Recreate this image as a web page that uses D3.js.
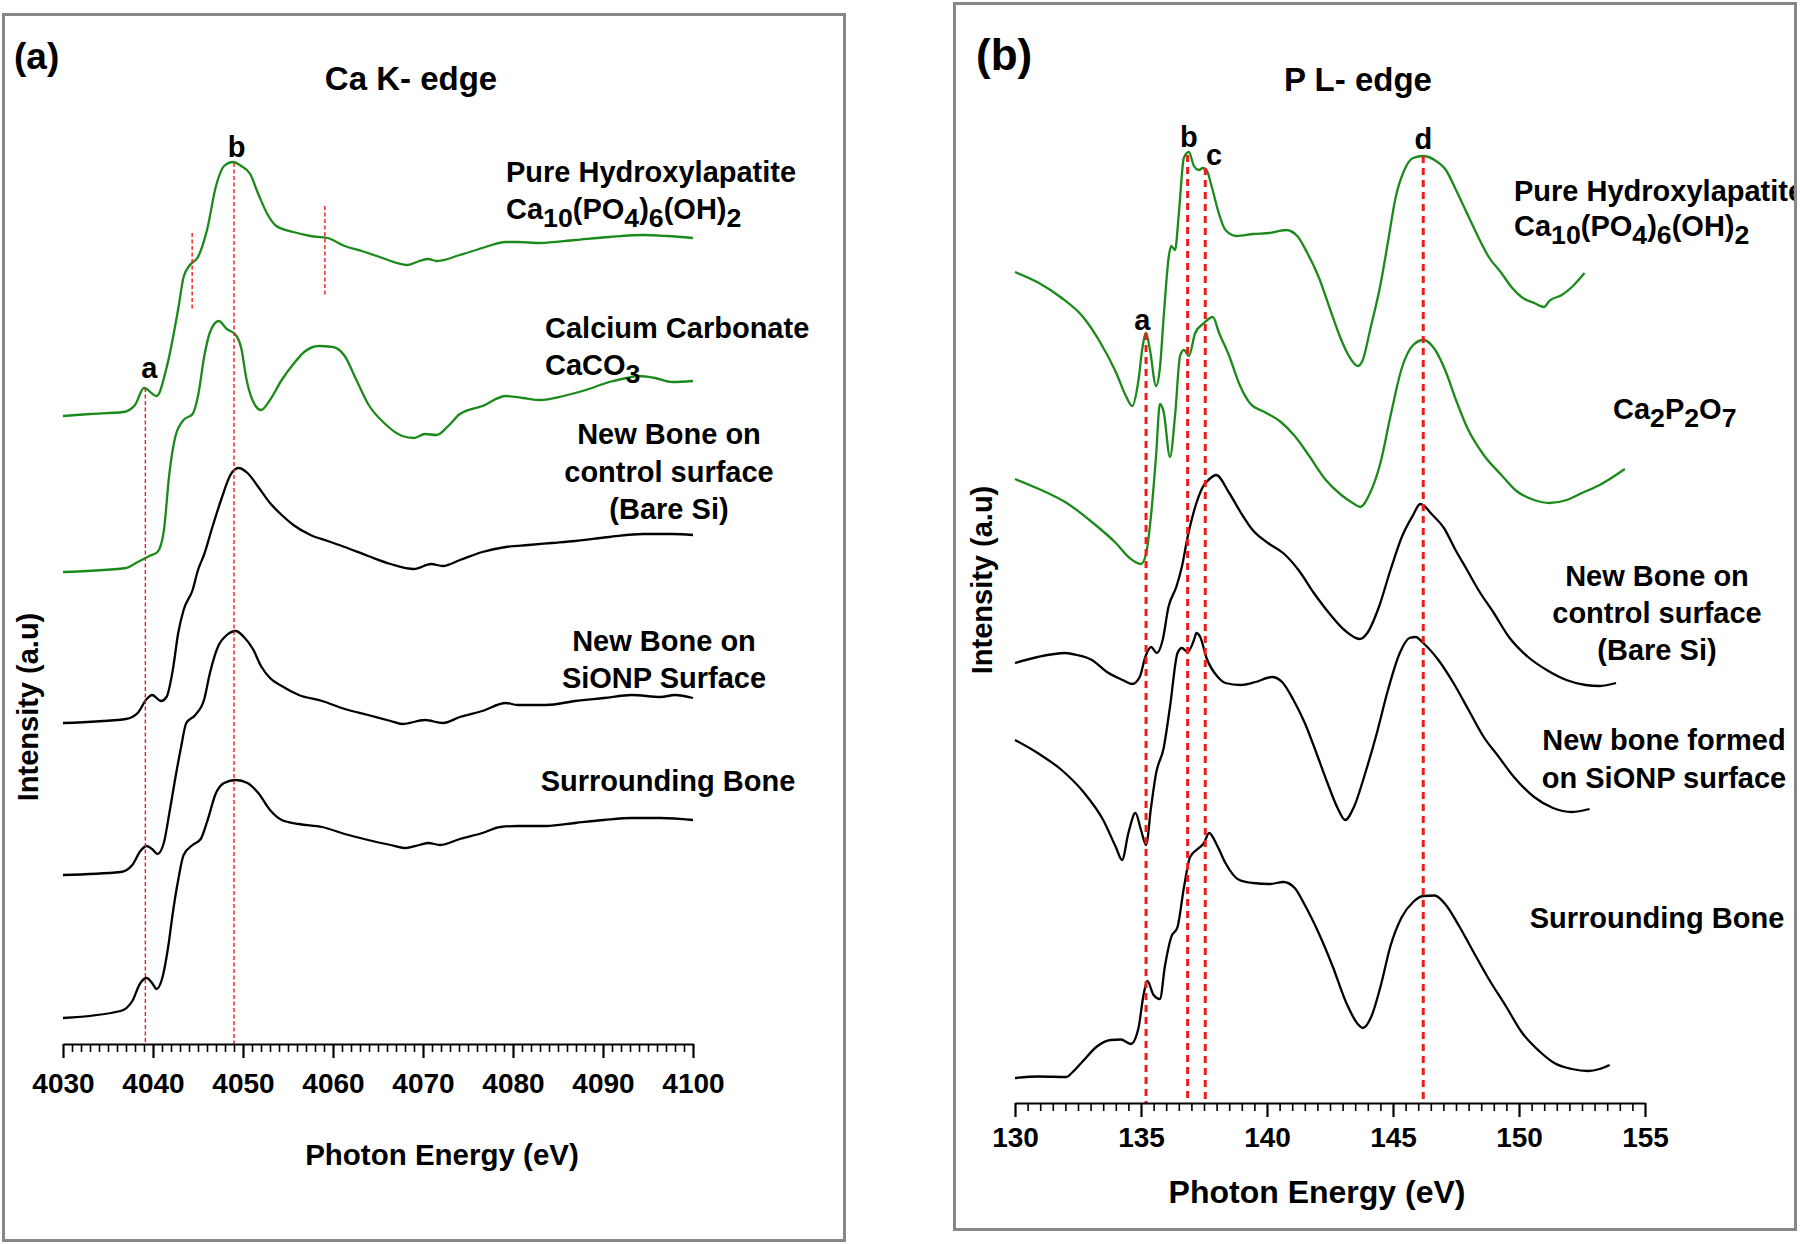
<!DOCTYPE html>
<html><head><meta charset="utf-8">
<script src="https://cdn.jsdelivr.net/npm/d3@7"></script>
<style>
html,body{margin:0;padding:0;background:#fff;}
svg{display:block;}
text{font-family:"Liberation Sans",Arial,Helvetica,sans-serif;font-weight:bold;fill:#000;}
</style>
</head><body>
<svg id="chart" width="1800" height="1244"></svg>
<script>
// ---------------- DATA ----------------
// Panel (a) Ca K-edge : [photon energy eV, intensity a.u.]
const caHAp = [[4030,629],[4033,631],[4036.7,633],[4038,640],[4039.0,657],[4040.4,649],[4041.5,677],[4042.8,736],[4043.4,768],[4044.1,780],[4045.0,788],[4046.0,815],[4047.0,859],[4047.9,879],[4048.9,883],[4049.8,879],[4050.8,871],[4051.7,851],[4052.7,831],[4053.7,819],[4055.6,813],[4057.5,809],[4059.4,807],[4061.3,799],[4063.2,794],[4065.2,788],[4067.1,782],[4068.3,780],[4069.6,784],[4070.6,786],[4071.5,784],[4074.1,790],[4076.6,797],[4079.2,803],[4080.5,803],[4083,802],[4086.9,805],[4090.7,808],[4094.5,810],[4097.1,809],[4100,807]];
const caCaCO3 = [[4030,473],[4037,477],[4038.3,483],[4039.6,489],[4040.5,493],[4041.2,514],[4041.8,570],[4042.5,609],[4043.4,625],[4044.4,631],[4045,649],[4045.7,689],[4046.3,712],[4047.3,724],[4048.2,716],[4049.2,710],[4049.8,697],[4050.4,665],[4051.4,639],[4052,635],[4053,645],[4054.3,665],[4055.6,681],[4056.8,693],[4058.4,699],[4060,698],[4061.3,689],[4062.6,665],[4063.9,641],[4065.8,621],[4067.7,609],[4069,607],[4070.2,611],[4071.5,610],[4072.8,619],[4074.1,631],[4076.6,639],[4079.2,649],[4081.1,647],[4083,645],[4085.6,649],[4088.1,655],[4090.7,663],[4092.6,667],[4093.9,669],[4095.8,667],[4097.7,663],[4100,664]];
const caControl = [[4030,322],[4037,326],[4038.3,332],[4039.3,346],[4039.9,350],[4040.9,344],[4041.5,348],[4042.2,375],[4042.8,412],[4043.4,435],[4044.4,455],[4045,475],[4045.7,491],[4046.6,518],[4047.6,546],[4048.6,570],[4049.5,577],[4050.5,572],[4051.7,558],[4053,542],[4054.3,530],[4055.6,520],[4057.5,510],[4059.4,504],[4061.3,498],[4063.9,489],[4066.4,481],[4069,476],[4070.9,481],[4072.2,479],[4074.1,485],[4076.6,493],[4079.2,498],[4081.7,500],[4084.3,502],[4086.9,504],[4090.7,508],[4094.5,511],[4097.7,511],[4100,510]];
const caSiONP = [[4030,170],[4036.4,173],[4037.7,180],[4038.6,194],[4039.3,199],[4039.9,196],[4040.5,191],[4041.2,202],[4041.8,231],[4042.5,268],[4043.1,297],[4043.7,322],[4044.7,330],[4045.7,346],[4046.3,371],[4047.3,400],[4048.2,410],[4049.2,414],[4050.1,408],[4051.1,396],[4052,379],[4053,367],[4054.3,359],[4056.2,350],[4058.8,344],[4061.3,336],[4063.9,330],[4066.4,324],[4067.7,321],[4070.2,325],[4072.2,322],[4074.1,328],[4076.6,334],[4079.2,342],[4080.5,340],[4083.7,340],[4086.9,344],[4090.1,347],[4093.2,350],[4096.4,348],[4098,350],[4100,347]];
const caSurrounding = [[4030,27],[4036.4,34],[4037.7,44],[4038.6,62],[4039.3,67],[4039.9,62],[4040.4,56],[4041,66],[4041.7,99],[4042.2,132],[4042.8,165],[4043.4,190],[4044.4,200],[4045.3,206],[4046,223],[4047,252],[4047.9,262],[4049.2,265],[4050.5,262],[4051.7,252],[4053,235],[4054.3,225],[4056.2,221],[4058.8,218],[4061.3,211],[4063.9,205],[4066.4,200],[4068,197],[4069.6,200],[4070.6,202],[4071.9,200],[4074.1,206],[4076.6,212],[4078.6,218],[4080.5,219],[4083.7,219],[4086.9,222],[4090.1,225],[4093.2,227],[4096.4,227],[4100,225]];

// Panel (b) P L-edge : [photon energy eV, intensity a.u.]
const pHAp = [[130,831],[130.95,820],[131.8,806],[132.7,786],[133.35,762],[134.0,731],[134.4,707],[134.65,697],[134.9,723],[135.05,754],[135.2,770],[135.35,754],[135.6,717],[135.75,735],[135.9,786],[136.1,846],[136.2,857],[136.35,853],[136.5,889],[136.7,945],[136.9,951],[137.1,937],[137.3,933],[137.45,935],[137.6,933],[137.8,917],[138.05,893],[138.35,873],[138.8,867],[139.45,869],[140.1,870],[140.75,873],[141.2,867],[141.6,850],[142.05,826],[142.5,794],[142.9,766],[143.25,747],[143.6,737],[143.8,743],[144.1,774],[144.5,818],[144.8,861],[145.1,905],[145.45,933],[145.8,945],[146.2,947],[146.65,943],[147.1,933],[147.5,913],[147.95,889],[148.4,865],[148.8,846],[149.3,830],[149.7,816],[150.1,806],[150.6,800],[151.0,796],[151.2,802],[151.7,808],[152.1,816],[152.6,830]];
const pCa2P2O7 = [[130,624],[130.95,614],[132.05,600],[133.1,580],[134.0,560],[134.55,545],[135.0,539],[135.2,549],[135.4,588],[135.6,648],[135.75,699],[135.9,691],[136.15,646],[136.35,687],[136.55,747],[136.7,753],[136.9,747],[137.15,770],[137.5,780],[137.85,786],[138.1,770],[138.5,747],[138.9,719],[139.35,699],[139.9,691],[140.55,681],[141.1,667],[141.65,648],[142.3,624],[142.95,608],[143.4,600],[143.7,596],[144.05,608],[144.5,640],[144.9,687],[145.35,735],[145.8,758],[146.2,763],[146.65,754],[147.1,731],[147.5,703],[147.95,675],[148.6,648],[149.3,628],[149.9,612],[150.6,603],[151.2,600],[151.9,603],[152.5,610],[153.2,618],[154.2,634]];
const pControl = [[130,440],[130.9,446],[132.0,450],[132.45,448],[133.05,443],[133.65,431],[134.27,423],[134.65,419],[134.95,426],[135.17,446],[135.4,456],[135.63,450],[135.86,463],[136.09,496],[136.4,516],[136.62,536],[136.85,566],[137.15,596],[137.45,616],[137.76,625],[137.98,628],[138.5,610],[138.97,590],[139.43,573],[140.04,560],[140.64,550],[141.25,533],[141.86,510],[142.46,490],[143.07,473],[143.68,464],[143.98,470],[144.44,496],[144.9,533],[145.35,566],[145.8,588],[146.08,599],[146.57,588],[147.02,575],[147.48,553],[147.94,533],[148.39,513],[149.0,490],[149.6,466],[150.36,446],[151.1,433],[151.88,423],[152.64,418],[153.2,417],[153.85,420]];
const pSiONP = [[130,363],[130.9,350],[131.85,333],[132.75,310],[133.5,283],[134.0,256],[134.25,243],[134.5,270],[134.78,290],[135.0,273],[135.2,258],[135.4,296],[135.6,330],[135.9,355],[136.15,396],[136.45,450],[136.62,455],[136.85,451],[137.1,463],[137.2,470],[137.35,466],[137.6,445],[138.05,426],[138.35,420],[138.95,418],[139.55,421],[140.2,426],[140.6,421],[141.05,403],[141.5,380],[141.96,350],[142.4,320],[142.8,295],[143.1,283],[143.45,296],[143.9,330],[144.36,370],[144.8,413],[145.27,450],[145.65,465],[145.9,466],[146.2,460],[146.8,443],[147.4,420],[148.0,393],[148.6,366],[149.2,346],[149.8,326],[150.6,306],[151.35,295],[152.1,291],[152.8,294]];
const pSurrounding = [[130,25],[130.95,26.5],[132.05,26],[132.25,30],[132.7,42],[133.25,56.5],[133.8,63],[134.2,63.5],[134.6,59],[134.9,75],[135.1,108],[135.25,122],[135.5,108],[135.75,104],[135.95,137],[136.2,166],[136.45,176],[136.7,215],[136.95,246],[137.25,254],[137.5,260],[137.7,270],[138.05,256],[138.35,240],[138.9,223],[139.45,220],[140.1,219],[140.65,221],[141.1,215],[141.5,198],[142.05,170],[142.6,137],[143.15,100],[143.6,79],[143.8,75],[144.15,87],[144.5,116],[144.9,157],[145.35,186],[145.8,201],[146.2,207],[146.65,207.5],[147.1,198],[147.6,178],[148.15,153],[148.8,124],[149.5,96],[150.1,71],[150.8,52],[151.4,40],[152.1,34],[152.75,32],[153.2,34],[153.6,38]];

// Tick values
const ticksA = [4030,4040,4050,4060,4070,4080,4090,4100];
const ticksB = [130,135,140,145,150,155];

// Reference peak markers: [energy, top intensity, bottom intensity]
const markersA = [[4039.15,657,0],[4049.0,882,0],[4044.35,812,735],[4059.1,839,749]];
const markersB = [[135.2,770,0],[136.85,948,0],[137.55,935,0],[146.2,947,0]];
const peakLettersA = [["a",4039.6],["b",4049.3]];
const peakLettersB = [["a",135.05],["b",136.9],["c",137.9],["d",146.2]];

// Texts
const titlesA = ["(a)","Ca K- edge","Photon Energy (eV)","Intensity (a.u)"];
const titlesB = ["(b)","P L- edge","Photon Energy (eV)","Intensity (a.u)"];
const seriesNamesA = [["Pure Hydroxylapatite","Ca_10(PO_4)_6(OH)_2"],["Calcium Carbonate","CaCO_3"],["New Bone on","control surface","(Bare Si)"],["New Bone on","SiONP Surface"],["Surrounding Bone"]];
const seriesNamesB = [["Pure Hydroxylapatite","Ca_10(PO_4)_6(OH)_2"],["Ca_2P_2O_7"],["New Bone on","control surface","(Bare Si)"],["New bone formed","on SiONP surface"],["Surrounding Bone"]];

// ---------------- LAYOUT ----------------
const GREEN = "#1b8a1b", RED = "#f21a1a";
const svg = d3.select("#chart");

const xA = d3.scaleLinear().domain([4030,4100]).range([63,693]);
const yA = d3.scaleLinear().domain([0,900]).range([1045,145]);
const xB = d3.scaleLinear().domain([130,155]).range([1015,1645]);
const yB = d3.scaleLinear().domain([0,1000]).range([1103,103]);

// panel frames
svg.append("rect").attr("x",3.5).attr("y",14.5).attr("width",841).attr("height",1226)
  .attr("fill","none").attr("stroke","#878787").attr("stroke-width",3);
svg.append("rect").attr("x",954.5).attr("y",3.5).attr("width",841).attr("height",1226)
  .attr("fill","none").attr("stroke","#878787").attr("stroke-width",3);

svg.append("clipPath").attr("id","clipB").append("rect").attr("x",956).attr("y",5).attr("width",838).attr("height",1222);

function formula(textSel, str, size) {
  const parts = str.split(/(_\d+)/).filter(s => s.length);
  let down = false;
  parts.forEach(p => {
    const ts = textSel.append("tspan");
    if (p[0] === "_") {
      ts.text(p.slice(1)).style("font-size", (size*0.92)+"px").attr("dy", down ? 0 : 8);
      down = true;
    } else {
      ts.text(p).attr("dy", down ? -8 : 0);
      down = false;
    }
  });
}

function drawAxis(g, x, y0, majors, minorStep, majorLen, minorLen, pad, fs) {
  const d = x.domain();
  const minors = d3.range(d[0], d[1] + minorStep/2, minorStep).filter(v => !majors.some(m => Math.abs(m - v) < 1e-6));
  const gm = g.append("g").attr("transform", `translate(0,${y0})`)
    .call(d3.axisBottom(x).tickValues(minors).tickSize(minorLen).tickSizeOuter(0).tickFormat(""));
  gm.selectAll(".tick line").attr("stroke","#000").attr("stroke-width",1.6);
  gm.select(".domain").remove();
  const gM = g.append("g").attr("transform", `translate(0,${y0})`)
    .call(d3.axisBottom(x).tickValues(majors).tickSize(majorLen).tickSizeOuter(0).tickPadding(pad).tickFormat(d3.format("d")));
  gM.select(".domain").attr("stroke","#000").attr("stroke-width",2.2);
  gM.selectAll(".tick line").attr("stroke","#000").attr("stroke-width",2.2);
  gM.attr("font-family", null).attr("font-size", null);
  gM.selectAll(".tick text").style("font-size", fs+"px").attr("fill","#000");
}

function drawPanel(opt) {
  const g = svg.append("g");
  if (opt.clip) g.attr("clip-path", "url(#clipB)");
  const line = d3.line().x(d => opt.x(d[0])).y(d => opt.y(d[1])).curve(d3.curveMonotoneX);
  opt.series.forEach((s, i) => {
    g.append("path").datum(s).attr("d", line).attr("fill","none")
      .attr("stroke", opt.colors[i]).attr("stroke-width", 2.3).attr("stroke-linejoin","round");
  });
  opt.markers.forEach(m => {
    g.append("line").attr("x1", opt.x(m[0])).attr("x2", opt.x(m[0]))
      .attr("y1", opt.y(m[1])).attr("y2", opt.y(m[2]))
      .attr("stroke", RED).attr("stroke-width", opt.markerW).attr("stroke-dasharray", opt.dash);
  });
  drawAxis(g, opt.x, opt.axisY, opt.ticks, opt.minorStep, 14, opt.minorLen, opt.pad, 28);
  const t = opt.titles;
  g.append("text").attr("x", opt.tagPos[0]).attr("y", opt.tagPos[1]).attr("dy","0.35em").style("font-size", opt.tagSize+"px").text(t[0]);
  g.append("text").attr("x", opt.titlePos[0]).attr("y", opt.titlePos[1]).attr("dy","0.35em").attr("text-anchor","middle").style("font-size","33px").text(t[1]);
  g.append("text").attr("x", opt.xTitlePos[0]).attr("y", opt.xTitlePos[1]).attr("dy","0.35em").attr("text-anchor","middle").style("font-size", opt.xTitleSize+"px").text(t[2]);
  g.append("text").attr("transform", `translate(${opt.yTitlePos[0]},${opt.yTitlePos[1]}) rotate(-90)`).attr("dy","0.35em").attr("text-anchor","middle").style("font-size","29px").text(t[3]);
  opt.letters.forEach((l, i) => {
    g.append("text").attr("x", opt.x(l[1])).attr("y", opt.letterY[i]).attr("dy","0.35em").attr("text-anchor","middle").style("font-size","29px").text(l[0]);
  });
  opt.names.forEach((lines, i) => {
    const p = opt.namePos[i];
    lines.forEach((ln, j) => {
      const tx = g.append("text").attr("x", p[0]).attr("y", p[1] + j*p[3]).attr("dy","0.35em")
        .attr("text-anchor", p[2]).style("font-size","29px");
      formula(tx, ln, 29);
    });
  });
}

drawPanel({
  x: xA, y: yA, series: [caHAp, caCaCO3, caControl, caSiONP, caSurrounding],
  colors: [GREEN, GREEN, "#000", "#000", "#000"],
  markers: markersA, markerW: 1.4, dash: "4,2.5",
  axisY: 1044, ticks: ticksA, minorStep: 1, minorLen: 8, pad: 15,
  titles: titlesA, tagPos: [14, 56], tagSize: 37, titlePos: [411, 78],
  xTitlePos: [442, 1155], xTitleSize: 29.5, yTitlePos: [28, 707],
  letters: peakLettersA, letterY: [368, 147],
  names: seriesNamesA,
  namePos: [[506,182,"start",37],[545,338,"start",37],[669,444,"middle",37.5],[664,651,"middle",37],[668,791,"middle",0]]
});

drawPanel({
  x: xB, y: yB, series: [pHAp, pCa2P2O7, pControl, pSiONP, pSurrounding],
  colors: [GREEN, GREEN, "#000", "#000", "#000"], clip: true,
  markers: markersB, markerW: 3, dash: "7,5",
  axisY: 1103, ticks: ticksB, minorStep: 0.5, minorLen: 8, pad: 10,
  titles: titlesB, tagPos: [976, 55], tagSize: 44, titlePos: [1358, 79],
  xTitlePos: [1317, 1192], xTitleSize: 32, yTitlePos: [982, 580],
  letters: peakLettersB, letterY: [320, 137, 155, 139],
  names: seriesNamesB,
  namePos: [[1514,201,"start",35],[1613,419,"start",0],[1657,586,"middle",37],[1664,750,"middle",38],[1657,928,"middle",0]]
});
</script>
</body></html>
